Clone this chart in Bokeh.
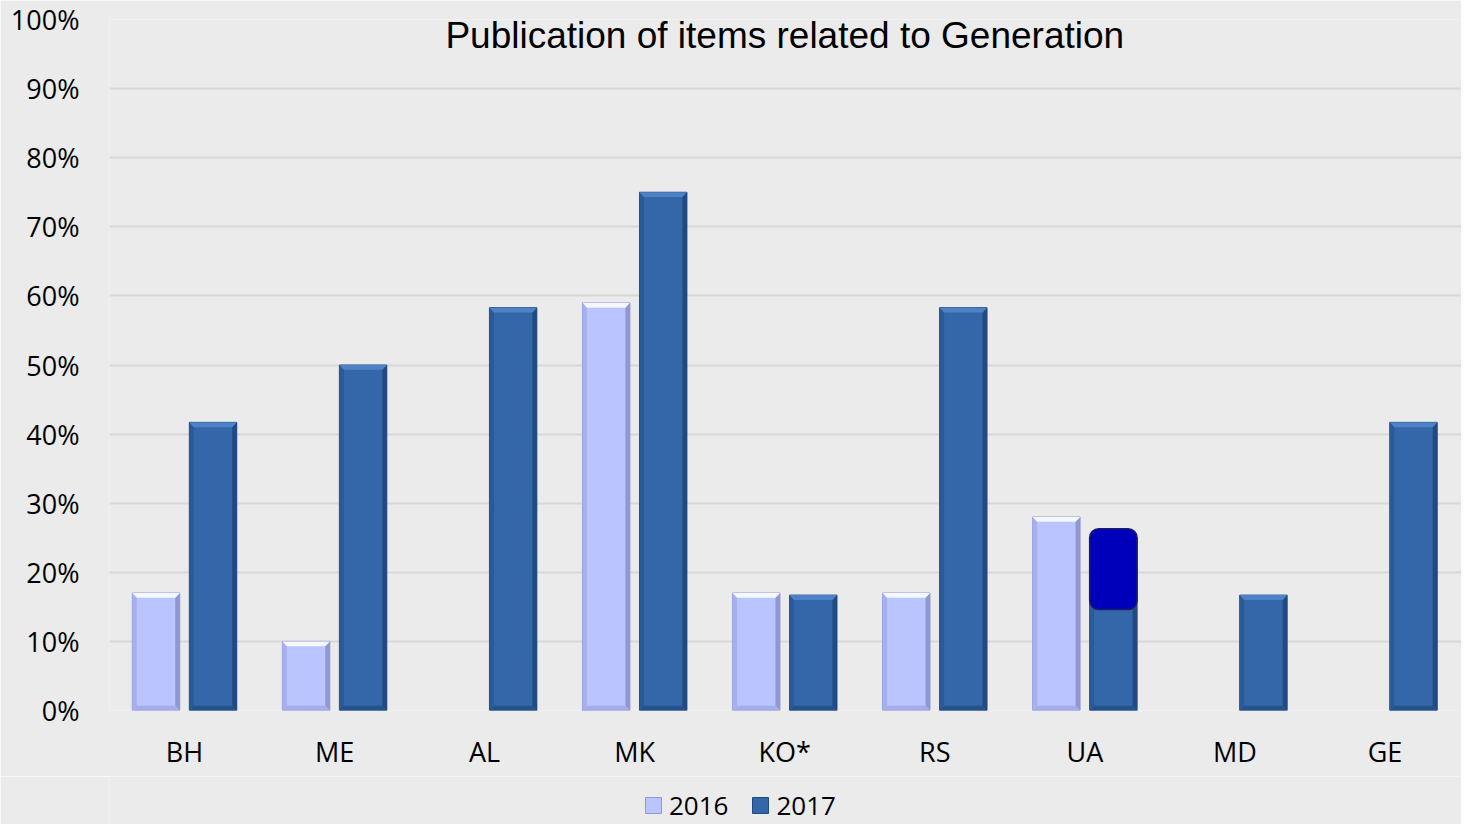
from bokeh.plotting import figure
from bokeh.layouts import column
from bokeh.models import (Range1d, FixedTicker, Label, Legend, LegendItem)
from bokeh.embed import file_html
from bokeh.resources import INLINE

# ---- data ----
categories = ["BH", "ME", "AL", "MK", "KO*", "RS", "UA", "MD", "GE"]
y2016 = [0.17, 0.10, 0.0, 0.59, 0.17, 0.17, 0.28, 0.0, 0.0]
y2017 = [0.417, 0.50, 0.583, 0.75, 0.167, 0.583, 0.25, 0.167, 0.417]
series_names = ["2016", "2017"]
y_ticks = [0.0, 0.1, 0.2, 0.3, 0.4, 0.5, 0.6, 0.7, 0.8, 0.9, 1.0]
y_tick_labels = ["0%", "10%", "20%", "30%", "40%", "50%", "60%", "70%", "80%", "90%", "100%"]
title_text = "Publication of items related to Generation"
# highlighted box drawn over the UA 2017 bar
hl_category = "UA"
hl_low, hl_high = 0.146, 0.263

# ---- style ----
BG = "#EBEBEB"
GRID = "#D7D7D7"
C16 = "#BAC4FF"
C16_TOP = "#F5F7FF"
C16_L = "#A7B0EE"
C16_R = "#8F98D2"
C16_B = "#A4ADEA"
C17 = "#3467AA"
C17_TOP = "#4D82C6"
C17_L = "#2A5A98"
C17_R = "#214B80"
C17_B = "#24528C"

W = 0.316
OFF = 0.19
DX = 0.03
DY = 0.007
FONT = "Open Sans"

p = figure(width=1461, height=776, output_backend="svg", toolbar_location=None,
           x_range=Range1d(-0.5, 8.51), y_range=Range1d(0, 1.0),
           background_fill_color=BG, border_fill_color=BG,
           min_border_left=109, min_border_right=0, min_border_top=19, min_border_bottom=66)
p.outline_line_color = None
p.xgrid.grid_line_color = None
p.ygrid.grid_line_color = GRID
p.ygrid.grid_line_width = 2
p.ygrid.ticker = FixedTicker(ticks=y_ticks)

p.yaxis.ticker = FixedTicker(ticks=y_ticks)
p.yaxis.major_label_overrides = {t: l for t, l in zip(y_ticks, y_tick_labels)}
p.yaxis.axis_line_color = None
p.yaxis.major_tick_line_color = None
p.yaxis.minor_tick_line_color = None
p.yaxis.major_label_standoff = 24
p.yaxis.major_label_text_font = FONT
p.yaxis.major_label_text_font_size = "27px"
p.yaxis.major_label_text_color = "#000000"

idx = list(range(len(categories)))
p.xaxis.ticker = FixedTicker(ticks=idx)
p.xaxis.major_label_overrides = {i: c for i, c in enumerate(categories)}
p.xaxis.axis_line_color = None
p.xaxis.major_tick_line_color = None
p.xaxis.minor_tick_line_color = None
p.xaxis.major_label_standoff = 16
p.xaxis.major_label_text_font = FONT
p.xaxis.major_label_text_font_size = "27px"
p.xaxis.major_label_text_color = "#000000"


def draw_bars(vals, offset, main, top, left, right, bottom):
    xs = [i + offset for i, v in enumerate(vals) if v > 0]
    tops = [v for v in vals if v > 0]
    r = p.vbar(x=xs, top=tops, bottom=0, width=W, fill_color=main, line_color=right, line_width=1)
    tp_x, tp_y, l_x, l_y, r_x, r_y, b_x, b_y = [], [], [], [], [], [], [], []
    for x, t in zip(xs, tops):
        x0, x1 = x - W / 2, x + W / 2
        tp_x.append([x0, x1, x1 - DX, x0 + DX]); tp_y.append([t, t, t - DY, t - DY])
        l_x.append([x0, x0 + DX, x0 + DX, x0]); l_y.append([t, t - DY, DY, 0])
        r_x.append([x1, x1 - DX, x1 - DX, x1]); r_y.append([t, t - DY, DY, 0])
        b_x.append([x0, x0 + DX, x1 - DX, x1]); b_y.append([0, DY, DY, 0])
    p.patches(l_x, l_y, fill_color=left, line_color=None)
    p.patches(r_x, r_y, fill_color=right, line_color=None)
    p.patches(b_x, b_y, fill_color=bottom, line_color=None)
    p.patches(tp_x, tp_y, fill_color=top, line_color=None)
    return r


draw_bars(y2016, -OFF, C16, C16_TOP, C16_L, C16_R, C16_B)
draw_bars(y2017, OFF, C17, C17_TOP, C17_L, C17_R, C17_B)

# highlight box
hx = categories.index(hl_category) + OFF
p.quad(left=[hx - W / 2], right=[hx + W / 2], bottom=[hl_low], top=[hl_high],
       fill_color="#0000BB", line_color="#1B1B6A", line_width=1.5, border_radius=9)

# title
p.add_layout(Label(x=4, y=0.977, text=title_text, text_font="Liberation Sans",
                   text_font_size="37px", text_align="center", text_baseline="middle",
                   text_color="#000000"))

# ---- legend strip below the chart ----
pl = figure(width=1461, height=48, output_backend="svg", toolbar_location=None,
            x_range=Range1d(0, 1), y_range=Range1d(0, 1),
            background_fill_color=BG, border_fill_color=BG,
            min_border_left=0, min_border_right=0, min_border_top=0, min_border_bottom=0)
pl.axis.visible = False
pl.grid.visible = False
pl.outline_line_color = None
# proxy glyphs (placed outside the visible range) that only supply legend swatches
l16 = pl.vbar(x=[-1], top=[0], width=0.1, fill_color=C16, line_color=C16_R)
l17 = pl.vbar(x=[-1], top=[0], width=0.1, fill_color=C17, line_color=C17_R)
legend = Legend(items=[LegendItem(label=series_names[0], renderers=[l16]),
                       LegendItem(label=series_names[1], renderers=[l17])],
                orientation="horizontal", location=(534, 1),
                background_fill_alpha=0, border_line_color=None,
                label_text_font=FONT, label_text_font_size="26px",
                label_text_color="#000000",
                glyph_width=20, glyph_height=20, spacing=22, label_standoff=6,
                padding=0, margin=0)
pl.add_layout(legend, "center")

open("out.html", "w").write(file_html(column(p, pl, spacing=0), INLINE))
